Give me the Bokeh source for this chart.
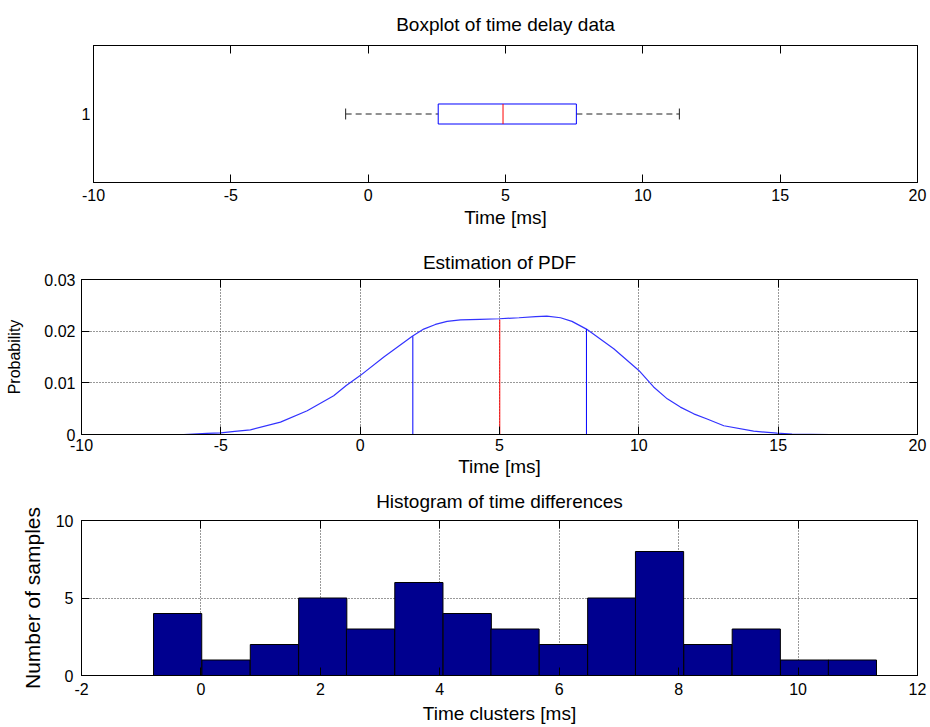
from bokeh.plotting import figure
from bokeh.models import FixedTicker, LinearAxis, Range1d
from bokeh.embed import file_html
from bokeh.resources import INLINE

# ---------------- data ----------------
# Boxplot of time delay data (single box at category 1)
box_category = 1
box_whisker_low = -0.82
box_q1 = 2.55
box_median = 4.91
box_q3 = 7.58
box_whisker_high = 11.33

# Estimated PDF
pdf_x = [-6.33, -5.5, -5.0, -4.5, -3.94, -2.86, -1.9, -0.95, -0.5, 0.0, 0.85, 1.87,
         2.28, 2.7, 3.12, 3.6, 4.3, 5.0, 5.7, 6.3, 6.7, 7.19, 7.6, 8.12, 9.1, 10.0,
         10.53, 11.02, 11.49, 11.97, 12.45, 13.05, 14.12, 14.96, 15.5, 16.87]
pdf_y = [0.0, 0.0002, 0.0003, 0.0006, 0.0009, 0.0024, 0.0046, 0.0075, 0.0095, 0.0114,
         0.0150, 0.0190, 0.0204, 0.0213, 0.0219, 0.0222, 0.0223, 0.0224, 0.0226,
         0.0228, 0.0229, 0.0226, 0.0219, 0.0204, 0.0166, 0.0124, 0.0092, 0.0069,
         0.0053, 0.0040, 0.0030, 0.0017, 0.00064, 0.00025, 0.0001, 0.0]
pdf_mark_x = [1.89, 5.01, 8.12]
pdf_mark_y = [0.0190, 0.0222, 0.0204]
pdf_mark_colors = ["#0000FF", "#FF0000", "#0000FF"]

# Histogram of time differences
hist_centers = [-0.39, 0.42, 1.23, 2.04, 2.84, 3.65, 4.46, 5.26, 6.07, 6.88, 7.68,
                8.49, 9.30, 10.11, 10.91]
hist_counts = [4, 1, 2, 5, 3, 6, 4, 3, 2, 5, 8, 2, 3, 1, 1]
hist_bin_width = 0.807

# ticks
time_ticks = [-10, -5, 0, 5, 10, 15, 20]
time_tick_labels = ["-10", "-5", "0", "5", "10", "15", "20"]
pdf_ticks = [0, 0.01, 0.02, 0.03]
pdf_tick_labels = ["0", "0.01", "0.02", "0.03"]
hist_xticks = [-2, 0, 2, 4, 6, 8, 10, 12]
hist_xtick_labels = ["-2", "0", "2", "4", "6", "8", "10", "12"]
hist_yticks = [0, 5, 10]
hist_ytick_labels = ["0", "5", "10"]
box_yticks = [1]
box_ytick_labels = ["1"]

FONT = "Liberation Sans"
TICK_FS = "16px"
LABEL_FS = "19px"
TICK_LEN = 8


def base_fig(fw, fh, left, right, top, bottom, xr, yr, title, standoff):
    p = figure(frame_width=fw, frame_height=fh, x_range=xr, y_range=yr,
               output_backend="svg", toolbar_location=None,
               min_border_left=left, min_border_right=right,
               min_border_top=top, min_border_bottom=bottom,
               title=title)
    p.background_fill_color = "white"
    p.border_fill_color = "white"
    p.outline_line_color = "black"
    p.outline_line_width = 1
    p.title.align = "center"
    p.title.vertical_align = "top"
    p.title.text_font = FONT
    p.title.text_font_size = LABEL_FS
    p.title.text_font_style = "normal"
    p.title.text_color = "black"
    p.title.standoff = standoff
    return p


def style_axis(ax, ticks, labels, show_labels=True, tick_len=TICK_LEN):
    ax.ticker = FixedTicker(ticks=ticks)
    if show_labels:
        ax.major_label_overrides = {t: l for t, l in zip(ticks, labels)}
    else:
        ax.major_label_overrides = {t: "" for t in ticks}
        ax.major_label_standoff = 0
        ax.axis_label_standoff = 0
    ax.major_label_text_font = FONT
    ax.major_label_text_font_size = TICK_FS if show_labels else "0px"
    ax.major_label_text_color = "black"
    ax.axis_label_text_font = FONT
    ax.axis_label_text_font_size = LABEL_FS
    ax.axis_label_text_font_style = "normal"
    ax.axis_label_text_color = "black"
    ax.axis_line_color = "black"
    ax.major_tick_in = tick_len
    ax.major_tick_out = 0
    ax.major_tick_line_color = "black"
    ax.minor_tick_line_color = None


def add_box_axes(p, xticks, yticks, ytick_len=TICK_LEN):
    top_ax = LinearAxis()
    style_axis(top_ax, xticks, None, show_labels=False)
    p.add_layout(top_ax, "above")
    right_ax = LinearAxis()
    style_axis(right_ax, yticks, None, show_labels=False, tick_len=ytick_len)
    p.add_layout(right_ax, "right")


def dotted_grid(p):
    for g in (p.xgrid[0], p.ygrid[0]):
        g.grid_line_color = "black"
        g.grid_line_dash = "1 2"
        g.grid_line_alpha = 0.8


# ---------------- figure 1: boxplot ----------------
p1 = base_fig(824, 137, 93, 13, 45, 58, Range1d(-10, 20), Range1d(0.5, 1.5),
              "Boxplot of time delay data", 18)
style_axis(p1.xaxis[0], time_ticks, time_tick_labels)
style_axis(p1.yaxis[0], box_yticks, box_ytick_labels, tick_len=0)
p1.xaxis[0].axis_label = "Time [ms]"
p1.xaxis[0].major_label_standoff = 6
p1.xaxis[0].axis_label_standoff = 3
p1.yaxis[0].major_label_standoff = 3
p1.grid.visible = False
add_box_axes(p1, time_ticks, box_yticks, ytick_len=0)

box_half = 0.073
cap_half = 0.04
p1.segment(x0=[box_whisker_low, box_q3], y0=[box_category, box_category],
           x1=[box_q1, box_whisker_high], y1=[box_category, box_category],
           line_color="#222222", line_width=1, line_dash="6 4")
p1.segment(x0=[box_whisker_low, box_whisker_high],
           y0=[box_category - cap_half] * 2,
           x1=[box_whisker_low, box_whisker_high],
           y1=[box_category + cap_half] * 2,
           line_color="#222222", line_width=1)
p1.quad(left=[box_q1], right=[box_q3], bottom=[box_category - box_half],
        top=[box_category + box_half], fill_color=None, line_color="#0000FF",
        line_width=1)
p1.segment(x0=[box_median], x1=[box_median], y0=[box_category - box_half],
           y1=[box_category + box_half], line_color="#FF0000", line_width=1)

# ---------------- figure 2: PDF ----------------
p2 = base_fig(836, 155, 81, 13, 39, 46, Range1d(-10, 20), Range1d(0, 0.03),
              "Estimation of PDF", 10)
style_axis(p2.xaxis[0], time_ticks, time_tick_labels)
style_axis(p2.yaxis[0], pdf_ticks, pdf_tick_labels)
p2.xaxis[0].axis_label = "Time [ms]"
p2.yaxis[0].axis_label = "Probability"
p2.yaxis[0].axis_label_text_font_size = "16px"
p2.xaxis[0].major_label_standoff = 4
p2.xaxis[0].axis_label_standoff = 2
p2.yaxis[0].major_label_standoff = 6
p2.yaxis[0].axis_label_standoff = 18
dotted_grid(p2)
add_box_axes(p2, time_ticks, pdf_ticks)

p2.line(pdf_x, pdf_y, line_color="#3333FF", line_width=1.2)
p2.segment(x0=pdf_mark_x, x1=pdf_mark_x, y0=[0] * len(pdf_mark_x), y1=pdf_mark_y,
           line_color=pdf_mark_colors, line_width=1)

# ---------------- figure 3: histogram ----------------
p3 = base_fig(836, 155, 81, 13, 40, 52, Range1d(-2, 12), Range1d(0, 10),
              "Histogram of time differences", 14)
style_axis(p3.xaxis[0], hist_xticks, hist_xtick_labels)
style_axis(p3.yaxis[0], hist_yticks, hist_ytick_labels)
p3.xaxis[0].axis_label = "Time clusters [ms]"
p3.yaxis[0].axis_label = "Number of samples"
p3.yaxis[0].axis_label_text_font_size = "21px"
p3.xaxis[0].major_label_standoff = 7
p3.xaxis[0].axis_label_standoff = 5
p3.yaxis[0].major_label_standoff = 8
p3.yaxis[0].axis_label_standoff = 9
dotted_grid(p3)
add_box_axes(p3, hist_xticks, hist_yticks)

p3.vbar(x=hist_centers, top=hist_counts, width=hist_bin_width, bottom=0,
        fill_color="#00008F", line_color="black", line_width=1)

open("out.html", "w").write(file_html([p1, p2, p3], INLINE))
